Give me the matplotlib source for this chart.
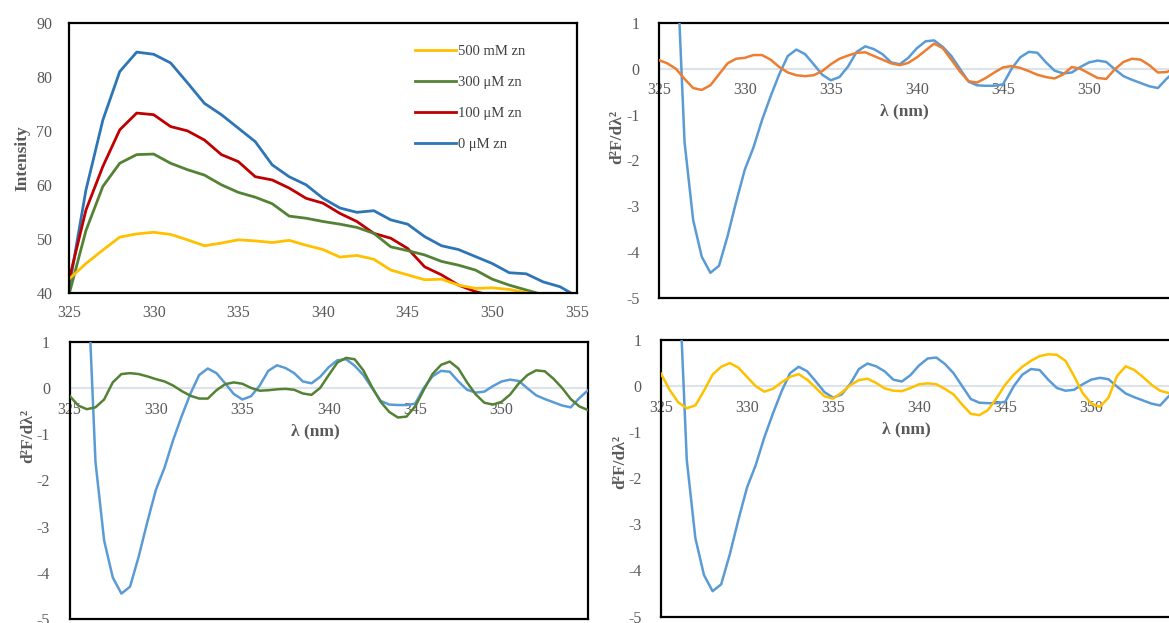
"""
锌离子荧光猝灭 - 荧光光谱与二阶导数光谱
"""

import numpy as np
import matplotlib
matplotlib.use('Agg')
import matplotlib.pyplot as plt

plt.rcParams['font.family'] = ['Liberation Serif', 'DejaVu Serif']
plt.rcParams['axes.unicode_minus'] = False

# 1. 荧光强度 (325-355 nm, 1 nm 步长)
wl = np.arange(325, 356)
nan = np.nan
int_0uM = [40.8, 59, 72, 81, 84.6, 84.2, 82.6, 78.9, 75.1, 73.0, 70.5, 68.0, 63.7, 61.5, 60.0,
           57.5, 55.7, 54.9, 55.2, 53.5, 52.7, 50.4, 48.7, 48.0, 46.7, 45.4, 43.7, 43.5, 42.0,
           41.1, 39.3]
int_100uM = [42.3, 55.3, 63.4, 70.2, 73.3, 73.0, 70.8, 70.0, 68.3, 65.6, 64.3, 61.5, 60.9, 59.4,
             57.5, 56.6, 54.7, 53.2, 51.0, 50.1, 48.2, 44.8, 43.3, 41.4, 40.2, 39.4,
             nan, nan, nan, nan, nan]
int_300uM = [39.6, 51.5, 59.7, 64.0, 65.6, 65.7, 64.0, 62.8, 61.8, 60.0, 58.6, 57.7, 56.5, 54.2,
             53.8, 53.2, 52.7, 52.1, 51.0, 48.5, 47.8, 47.0, 45.8, 45.1, 44.2, 42.5, 41.4, 40.5,
             39.6, nan, nan]
int_500mM = [42.5, 45.4, 47.9, 50.3, 50.9, 51.2, 50.8, 49.8, 48.7, 49.2, 49.8, 49.6, 49.3, 49.7,
             48.8, 48.0, 46.6, 46.9, 46.2, 44.2, 43.3, 42.4, 42.5, 41.4, 40.8, 40.9, 40.6, 40.0,
             39.5, nan, nan]
int_labels = ['500 mM zn', '300 \u03bcM zn', '100 \u03bcM zn', '0 \u03bcM zn']

# 2. 二阶导数 (325-355 nm, 0.5 nm 步长)
wl2 = np.arange(325, 355.01, 0.5)
d2_0uM = [8.0, 6.0, 2.8, -1.6, -3.3, -4.1, -4.45, -4.3, -3.65, -2.9, -2.2, -1.72, -1.12, -0.6,
          -0.12, 0.28, 0.42, 0.32, 0.1, -0.13, -0.25, -0.18, 0.05, 0.37, 0.49, 0.43, 0.32, 0.14,
          0.1, 0.24, 0.45, 0.6, 0.62, 0.48, 0.28, 0.0, -0.28, -0.36, -0.37, -0.37, -0.34, 0.0,
          0.25, 0.37, 0.35, 0.14, -0.04, -0.1, -0.08, 0.04, 0.14, 0.18, 0.15, -0.01, -0.16,
          -0.24, -0.31, -0.38, -0.42, -0.22, -0.05]
d2_100uM = [0.19, 0.12, 0.0, -0.22, -0.42, -0.46, -0.36, -0.12, 0.12, 0.22, 0.24, 0.3, 0.3, 0.2,
            0.04, -0.08, -0.14, -0.16, -0.14, -0.05, 0.1, 0.22, 0.29, 0.35, 0.36, 0.28, 0.2,
            0.12, 0.08, 0.13, 0.25, 0.4, 0.55, 0.45, 0.2, -0.06, -0.27, -0.3, -0.2, -0.08, 0.03,
            0.06, 0.02, -0.05, -0.13, -0.18, -0.21, -0.12, 0.04, 0.0, -0.1, -0.2, -0.22, -0.01,
            0.15, 0.22, 0.2, 0.08, -0.08, -0.07, 0.0]
d2_300uM = [-0.17, -0.38, -0.46, -0.42, -0.25, 0.12, 0.3, 0.32, 0.3, 0.25, 0.19, 0.14, 0.05,
            -0.07, -0.17, -0.23, -0.23, -0.05, 0.08, 0.12, 0.09, 0.0, -0.06, -0.05, -0.03, -0.02,
            -0.04, -0.12, -0.15, 0.0, 0.28, 0.55, 0.65, 0.62, 0.38, 0.02, -0.3, -0.52, -0.64,
            -0.62, -0.4, -0.04, 0.3, 0.5, 0.57, 0.42, 0.12, -0.14, -0.32, -0.36, -0.3, -0.14,
            0.1, 0.28, 0.38, 0.36, 0.2, 0.0, -0.24, -0.4, -0.48]
d2_500mM = [0.27, -0.08, -0.35, -0.48, -0.42, -0.1, 0.25, 0.42, 0.5, 0.4, 0.2, 0.0, -0.12, -0.06,
            0.08, 0.2, 0.26, 0.14, -0.04, -0.22, -0.27, -0.14, 0.02, 0.13, 0.16, 0.07, -0.05,
            -0.1, -0.11, -0.04, 0.04, 0.06, 0.04, -0.06, -0.18, -0.4, -0.6, -0.63, -0.52, -0.26,
            0.03, 0.25, 0.42, 0.55, 0.65, 0.69, 0.68, 0.55, 0.22, -0.15, -0.38, -0.45, -0.25,
            0.22, 0.43, 0.35, 0.2, 0.03, -0.1, -0.15, -0.14]

x_ticks = [325, 330, 335, 340, 345, 350, 355]
d2_xticks = [325, 330, 335, 340, 345, 350]
d2_yticks = [-5, -4, -3, -2, -1, 0, 1]

GRAY = '#595959'
TICK_FS = 11.5
LABEL_FS = 12.5


def frame(ax):
    for s in ax.spines.values():
        s.set_linewidth(1.6)
        s.set_color('black')
    ax.tick_params(length=0, colors=GRAY, labelsize=TICK_FS)


def deriv_panel(ax, ref, other, color, label_y):
    frame(ax)
    ax.set_xlim(325, 355)
    ax.set_ylim(-5, 1)
    ax.set_yticks(d2_yticks)
    ax.set_xticks([])
    ax.tick_params(axis='y', pad=14)
    # 零线 + 零线上的刻度标签
    ax.axhline(0, color='#dde3ea', lw=1.5, zorder=1)
    for t in d2_xticks:
        ax.text(t, -0.47, str(t), ha='center', va='center', color=GRAY,
                fontsize=TICK_FS, zorder=1)
    ax.plot(wl2, ref, color='#5B9BD5', lw=1.8, zorder=3)
    ax.plot(wl2, other, color=color, lw=1.8, zorder=4)
    ax.text(0.475, 0.677, '\u03bb (nm)', transform=ax.transAxes, ha='center', va='center',
            color=GRAY, fontsize=LABEL_FS, fontweight='bold')
    ax.set_ylabel('d\u00b2F/d\u03bb\u00b2', color=GRAY, fontsize=LABEL_FS, fontweight='bold')
    ax.yaxis.set_label_coords(-0.064, label_y)


fig = plt.figure(figsize=(11.69, 6.23), dpi=100)

# 荧光光谱
ax1 = fig.add_axes([0.0590, 0.5302, 0.4346, 0.4329])
frame(ax1)
ax1.set_xlim(325, 355)
ax1.set_ylim(40, 90)
ax1.set_xticks(x_ticks)
ax1.set_yticks(range(40, 91, 10))
ax1.tick_params(axis='x', pad=9)
ax1.tick_params(axis='y', pad=12)
l0, = ax1.plot(wl, int_0uM, color='#2E75B6', lw=2.0)
l1, = ax1.plot(wl, int_100uM, color='#C00000', lw=2.0)
l3, = ax1.plot(wl, int_300uM, color='#548235', lw=2.0)
l5, = ax1.plot(wl, int_500mM, color='#FFC000', lw=2.0)
ax1.set_ylabel('Intensity', color=GRAY, fontsize=LABEL_FS, fontweight='bold')
ax1.yaxis.set_label_coords(-0.076, 0.5)
leg = ax1.legend([l5, l3, l1, l0], int_labels, loc='upper left', bbox_to_anchor=(0.67, 0.94),
                 frameon=False, fontsize=10.5, handlelength=2.8, handletextpad=0.15,
                 labelspacing=1.22, borderaxespad=0)
for t in leg.get_texts():
    t.set_color('#404040')

# 二阶导数光谱
ax2 = fig.add_axes([0.5635, 0.5217, 0.4417, 0.4414])
deriv_panel(ax2, d2_0uM, d2_100uM, '#ED7D31', 0.585)

ax3 = fig.add_axes([0.0595, 0.0064, 0.4435, 0.4451])
deriv_panel(ax3, d2_0uM, d2_300uM, '#548235', 0.66)

ax4 = fig.add_axes([0.5654, 0.0104, 0.4417, 0.4438])
deriv_panel(ax4, d2_0uM, d2_500mM, '#FFC000', 0.56)

fig.savefig('out.png', dpi=100)
